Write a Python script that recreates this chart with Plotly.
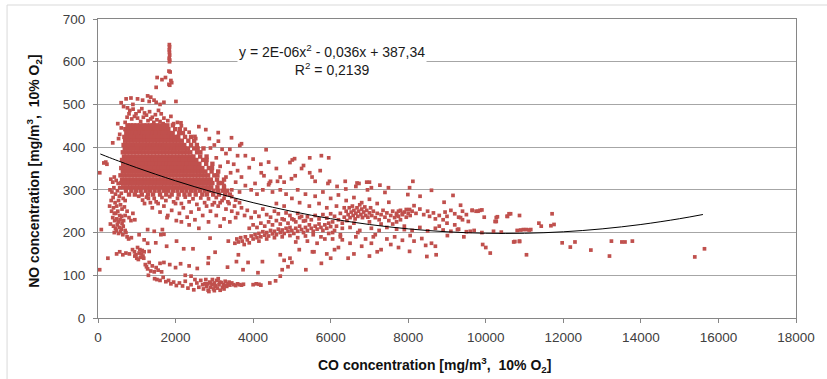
import plotly.graph_objects as go

# ---------------- data ----------------
# dense core of the main cloud: y level -> x values
core_rows = {
    451: [760, 840, 915, 1000, 1090, 1175, 1260, 1350, 1430, 1520, 1600, 1700, 1790, 1930],
    442: [705, 790, 870, 955, 1040, 1130, 1210, 1300, 1385, 1470, 1555, 1645, 1730, 1815, 1990, 2110],
    433: [730, 810, 895, 980, 1065, 1150, 1235, 1320, 1410, 1495, 1580, 1665, 1750, 1840, 1925, 2095, 2190],
    424: [680, 765, 850, 940, 1025, 1115, 1200, 1285, 1375, 1460, 1550, 1635, 1720, 1810, 1895, 1985, 2070, 2245, 2400],
    415: [700, 780, 865, 950, 1035, 1120, 1205, 1290, 1380, 1465, 1550, 1640, 1725, 1810, 1900, 1985, 2070, 2160, 2330, 2480],
    405: [660, 745, 830, 920, 1005, 1095, 1180, 1270, 1355, 1440, 1530, 1615, 1705, 1790, 1880, 1965, 2050, 2140, 2225, 2400, 2550],
    397: [690, 770, 855, 945, 1030, 1115, 1200, 1290, 1375, 1460, 1545, 1635, 1720, 1805, 1895, 1980, 2065, 2150, 2240, 2320, 2480, 2570, 2720],
    388: [640, 725, 815, 900, 990, 1075, 1160, 1250, 1335, 1425, 1510, 1600, 1685, 1770, 1860, 1945, 2035, 2120, 2210, 2295, 2380, 2555, 2640],
    378: [670, 750, 835, 920, 1005, 1095, 1180, 1265, 1350, 1440, 1525, 1610, 1700, 1785, 1870, 1960, 2045, 2130, 2215, 2300, 2390, 2460, 2635, 2800],
    370: [620, 705, 795, 880, 970, 1055, 1140, 1230, 1315, 1405, 1490, 1580, 1665, 1750, 1840, 1925, 2015, 2100, 2190, 2275, 2360, 2450, 2535, 2710, 2800],
    361: [650, 735, 820, 905, 995, 1080, 1165, 1255, 1340, 1425, 1515, 1600, 1685, 1775, 1860, 1945, 2035, 2120, 2205, 2295, 2380, 2440, 2525, 2615, 2790, 2950],
    351: [600, 685, 775, 860, 950, 1035, 1120, 1210, 1295, 1385, 1470, 1560, 1645, 1730, 1820, 1905, 1995, 2080, 2170, 2255, 2340, 2430, 2515, 2605, 2690, 2860, 2940],
    343: [640, 720, 805, 890, 975, 1060, 1150, 1235, 1320, 1405, 1495, 1580, 1665, 1750, 1840, 1925, 2010, 2095, 2185, 2270, 2355, 2440, 2530, 2595, 2680, 2770, 2930, 3100],
    334: [580, 665, 755, 840, 930, 1015, 1100, 1190, 1275, 1365, 1450, 1540, 1625, 1710, 1800, 1885, 1975, 2060, 2150, 2235, 2320, 2410, 2495, 2585, 2670, 2760, 2840, 3000, 3080],
    324: [620, 700, 785, 870, 955, 1040, 1130, 1215, 1300, 1385, 1475, 1560, 1645, 1730, 1820, 1905, 1990, 2075, 2165, 2250, 2335, 2420, 2510, 2575, 2660, 2750, 2830, 2910, 3070, 3250],
    316: [600, 690, 780, 870, 960, 1045, 1130, 1220, 1305, 1395, 1480, 1570, 1655, 1740, 1830, 1915, 2005, 2090, 2180, 2265, 2350, 2440, 2525, 2615, 2700, 2790, 2870, 2950, 3110, 3200],
    306: [650, 740, 830, 920, 1010, 1095, 1180, 1270, 1355, 1445, 1530, 1620, 1705, 1790, 1880, 1965, 2055, 2140, 2230, 2315, 2400, 2490, 2575, 2665, 2750, 2840, 2920, 3080, 3250],
    298: [720, 860, 980, 1100, 1230, 1340, 1460, 1580, 1700, 1810, 1930, 2050, 2170, 2280, 2400, 2510, 2630, 2750, 2860, 2980, 3100, 3220, 3330],
    289: [800, 950, 1130, 1290, 1420, 1600, 1760, 1900, 2080, 2230, 2360, 2520, 2690, 2810, 2970, 3120, 3280, 3400],
}

cloud_edge = [
    (1840, 640), (1845, 635), (1838, 628), (1842, 622), (1848, 615), (1835, 608), (1850, 604), (1843, 600),
    (1830, 578), (1860, 576), (1900, 551), (1830, 547), (1740, 563), (1650, 558), (1525, 563), (1500, 540),
    (2010, 507), (1850, 545), (1880, 556),
    (597, 504), (725, 513), (850, 515), (1020, 513), (1150, 510), (1280, 520), (1360, 517), (1445, 510),
    (1320, 507), (1500, 505), (1600, 500), (1700, 505), (900, 500), (660, 495),
    (760, 492), (820, 486), (905, 489), (980, 478), (1060, 484), (1130, 490), (1200, 480), (1250, 475),
    (1330, 483), (1400, 470), (1480, 476), (1560, 486), (1630, 478), (1700, 468), (1800, 462), (1880, 472),
    (2050, 458), (2150, 450), (750, 470), (800, 478), (870, 466), (940, 472), (1020, 468), (1100, 460),
    (1170, 470), (1290, 462), (1360, 466), (1440, 458), (1520, 464), (1600, 460), (1680, 455), (1950, 455),
    (700, 458), (2250, 442), (2350, 435), (2500, 425), (2600, 448), (2780, 441), (3100, 434), (2140, 457),
    (2870, 420), (2520, 420), (2900, 398),
    (3104, 414), (3443, 422), (3700, 408), (3657, 404), (3000, 405), (3200, 395), (3300, 385), (3050, 375),
    (3350, 365), (3500, 360), (3150, 355), (3600, 345), (3420, 340), (3700, 330), (3300, 330), (3550, 318),
    (3800, 310), (3250, 310), (3450, 300), (3650, 295), (3900, 352), (4210, 340), (4280, 333), (4400, 312),
    (4450, 320), (4420, 316), (4630, 320), (4800, 318), (4990, 326), (5085, 333), (4335, 394), (3950, 300),
    (4100, 290), (4250, 300), (4050, 315), (4500, 295), (4700, 300), (4850, 290),
    (1050, 285), (1150, 276), (1250, 283), (1350, 270), (1450, 280), (1550, 268), (1650, 282), (1750, 275),
    (1850, 284), (1950, 272), (2050, 280), (2150, 268), (2250, 283), (2350, 272), (2450, 279), (2550, 266),
    (2650, 281), (2750, 270), (2850, 279), (2950, 265), (3050, 282), (3150, 270), (3250, 280), (3350, 272),
    (3450, 284), (3550, 276), (3650, 270),
    (3000, 270), (3100, 262), (3200, 275), (3300, 255), (3380, 268), (3450, 250), (3520, 262), (3600, 245),
    (3700, 258), (3780, 240), (3850, 252), (3950, 235), (4050, 248), (4150, 238), (4250, 255), (4350, 242),
    (4450, 236), (4550, 250), (4650, 244), (4750, 232), (4850, 246), (4950, 240), (5050, 230), (5150, 245),
    (5250, 238), (5350, 228), (3050, 240), (3250, 232), (3400, 225), (3550, 235), (2900, 250), (2800, 262),
    (2700, 240), (2600, 255), (2500, 230), (2400, 248), (2300, 236), (2200, 258), (2100, 245), (2000, 268),
    (1900, 252), (1800, 240), (1700, 262), (1600, 248), (1500, 272), (1400, 258), (1300, 280), (1200, 268),
    (2150, 225), (2350, 218), (2600, 210), (2850, 225), (3150, 215), (1780, 235), (2020, 228),
]

left_strip = [
    (45, 340), (43, 113), (85, 207), (150, 363), (200, 365), (230, 360), (255, 140),
    (380, 410), (510, 455), (560, 430), (600, 445), (530, 420),
    (330, 325), (380, 318), (420, 330), (470, 322), (520, 315), (560, 305), (310, 300), (360, 295),
    (410, 305), (450, 290), (500, 298), (550, 285), (600, 292), (650, 280), (700, 275), (340, 275),
    (390, 282), (440, 270), (480, 262), (530, 275), (580, 265), (620, 255), (680, 260), (350, 250),
    (400, 258), (460, 245), (510, 250), (560, 240), (610, 238), (380, 235), (430, 228), (480, 232),
    (520, 225), (570, 230), (620, 222), (660, 228), (400, 215), (450, 210), (500, 218), (550, 212),
    (600, 208), (650, 215), (700, 205), (420, 200), (470, 205), (530, 198), (580, 202), (640, 195),
    (720, 200), (750, 190), (790, 185), (860, 188), (320, 220), (300, 262), (420, 245), (700, 240),
    (750, 250), (800, 235), (850, 228), (900, 245), (950, 230),
]

lower_arc = [
    (480, 150), (560, 155), (640, 148), (720, 152), (810, 150), (890, 160), (940, 155), (980, 148),
    (1020, 165), (1060, 152), (1100, 142), (1140, 158), (1180, 140), (1000, 140), (1080, 160), (1120, 150),
    (1160, 145), (950, 145), (1040, 137), (1190, 155), (1220, 125), (1280, 115), (1320, 130), (1360, 110),
    (1400, 122), (1450, 108), (1500, 118), (1550, 112), (1600, 128), (1640, 108), (1300, 100), (1250, 120),
    (1460, 92), (1520, 90), (1600, 88), (1680, 95), (1750, 85), (1820, 88), (1880, 80), (1950, 84),
    (2020, 76), (2100, 82), (2180, 75), (2250, 86), (2320, 70), (2400, 78), (2470, 66), (2550, 82),
    (2600, 72), (2650, 88), (2720, 68), (2760, 80), (2800, 74), (2840, 65), (2880, 84), (2900, 72),
    (2940, 78), (2980, 68), (3000, 82), (3030, 74), (3060, 88), (3080, 70), (3120, 78), (3150, 65),
    (3180, 83), (3210, 72), (3240, 78), (3280, 86), (3320, 74), (3350, 80), (3400, 77), (3450, 82),
    (3500, 78), (3550, 76), (3600, 80), (3650, 78), (3700, 77), (3750, 79), (2780, 90), (2950, 90),
    (3100, 92), (2860, 62), (3000, 64), (3250, 68), (2700, 78), (2820, 80), (2900, 82), (3020, 76),
    (3140, 84), (3280, 76), (3380, 84), (4000, 78), (4080, 80), (4150, 79), (4200, 77), (4430, 82),
    (4580, 87), (4700, 98), (1700, 130), (1850, 125), (2000, 118), (2130, 127), (2350, 122), (2560, 116),
    (2840, 128), (2400, 98), (2500, 90), (2250, 100),
    (1060, 195), (1190, 183), (1280, 207), (1450, 203), (1620, 195), (1660, 207), (1700, 196), (1490, 176),
    (1770, 168), (2025, 180), (2210, 162), (2450, 162), (2850, 141), (2890, 187), (1320, 156), (1280, 175),
    (3020, 154), (3340, 119), (3360, 180), (3570, 132), (3620, 148), (3870, 130), (4240, 132), (4125, 106),
    (3740, 113),
]

middle_band = [
    (3530, 175), (3580, 185), (3620, 178), (3680, 188), (3720, 180), (3770, 172), (3800, 190), (3850, 183),
    (3900, 176), (3950, 192), (4000, 185), (4050, 195), (4100, 188), (4150, 198), (4200, 190), (4250, 202),
    (4300, 194), (4350, 200), (4400, 192), (4450, 205), (4500, 197), (4550, 203), (4600, 195), (4650, 208),
    (4700, 200), (4750, 206), (4800, 198), (4850, 210), (4900, 203), (4950, 212), (5000, 205), (5050, 198),
    (5100, 210), (5150, 203), (5200, 215), (5250, 207), (5300, 200), (5350, 212), (5400, 205), (5450, 218),
    (5500, 210), (5550, 203), (5600, 215), (5650, 208), (5700, 220), (5750, 212), (5800, 205), (5850, 218),
    (5900, 210), (5950, 222), (6000, 214), (3900, 210), (4000, 218), (4100, 212), (4200, 222), (4300, 215),
    (4400, 225), (4500, 218), (4600, 228), (4700, 220), (4800, 230), (4900, 222), (5000, 232), (5100, 225),
    (5200, 235), (5300, 227), (5400, 237), (5500, 230), (5600, 240), (5700, 232), (5800, 242), (5900, 234),
    (6000, 244), (4150, 180), (4350, 185), (4550, 188), (4750, 190), (4950, 193), (5150, 188), (5350, 192),
    (5550, 195), (5750, 190), (5950, 198),
    (6050, 225), (6100, 238), (6150, 215), (6200, 230), (6250, 245), (6300, 222), (6350, 236), (6400, 250),
    (6420, 228), (6450, 242), (6480, 258), (6500, 235), (6530, 248), (6560, 262), (6580, 240), (6600, 252),
    (6630, 232), (6650, 245), (6680, 258), (6700, 238), (6720, 250), (6750, 265), (6780, 242), (6800, 255),
    (6820, 235), (6850, 248), (6880, 260), (6900, 240), (6930, 252), (6960, 236), (7000, 246), (7030, 258),
    (7060, 240), (7100, 250), (7150, 235), (7200, 245), (7250, 230), (7300, 242), (7350, 252), (7400, 236),
    (7450, 246), (7500, 228), (7550, 240), (7600, 250), (7650, 235), (7700, 245), (7750, 238), (7800, 252),
    (7850, 242), (7900, 248), (7950, 236), (8000, 245), (8035, 254), (7700, 225), (7300, 220), (7000, 225),
    (6600, 222), (6300, 210), (6100, 205), (7800, 230), (7600, 220),
    (6050, 200), (6250, 195), (6500, 212), (6750, 205), (7050, 210), (7250, 205), (7450, 212), (7700, 208),
    (7900, 215), (8100, 205), (8300, 212), (8500, 204), (8700, 210), (8900, 206), (9100, 203), (9300, 208),
    (9500, 202), (9700, 205), (9900, 200), (10200, 203),
    (7700, 240), (7750, 250), (7850, 245), (7950, 254), (8050, 240), (8100, 250), (8200, 245), (8300, 255),
    (8400, 242), (8500, 250), (8550, 238), (8650, 246), (8700, 232), (8800, 240), (8900, 230), (8950, 248),
    (9000, 238), (9100, 252), (9200, 244), (9300, 236), (9400, 250), (9500, 242), (9650, 252), (9750, 250),
    (9850, 252), (9960, 236), (10270, 226), (10270, 235),
]

upper_scatter = [
    (4950, 364), (5010, 370), (5070, 373), (5460, 375), (5760, 380), (5950, 375), (5250, 350), (5300, 357),
    (5460, 340), (5520, 330), (5600, 320), (5730, 345), (5930, 315), (5970, 320), (6165, 308), (6375, 320),
    (6390, 302), (6650, 308), (6730, 315), (6680, 316), (6930, 318), (7000, 318), (6950, 300), (7050, 305),
    (7270, 311), (7400, 294), (7490, 305), (8120, 320), (8035, 305), (8600, 299), (8305, 285), (7990, 289),
    (9155, 287), (8925, 271), (7500, 271), (8150, 263), (9350, 264), (4400, 365), (4600, 350), (4700, 330),
    (5150, 300), (5350, 290), (5600, 285), (5800, 295), (6000, 280), (6200, 288), (6400, 275), (6600, 282),
    (6800, 270), (7000, 278), (7200, 268), (5000, 280), (5200, 270), (5450, 262), (5700, 268), (5900, 258),
    (6150, 262), (6350, 258), (4600, 268), (4800, 262), (3800, 380), (4000, 372), (3400, 395), (3600, 380),
    (4200, 360),
]

lower_scatter = [
    (5190, 160), (5360, 113), (5530, 155), (5570, 155), (5760, 128), (5900, 150), (6100, 160), (6000, 140),
    (6200, 165), (6450, 140), (6300, 183), (6500, 175), (6650, 190), (6800, 168), (6900, 185), (7050, 175),
    (7150, 195), (7300, 160), (7450, 185), (7550, 172), (7650, 190), (7750, 165), (7850, 182), (6600, 150),
    (7000, 145), (7200, 155), (4700, 148), (4800, 135), (4900, 120), (5000, 130), (4750, 113), (4950, 140),
    (6050, 185), (6250, 190), (5650, 175), (5850, 185), (5400, 180), (5100, 178), (6700, 200), (7100, 190),
    (7900, 207), (8050, 193), (8150, 180), (8350, 186), (8450, 170), (8600, 175), (8480, 144), (8720, 148),
    (8700, 168), (8035, 156), (9010, 193), (9270, 207), (9435, 190), (9600, 203), (9920, 172), (10000, 165),
    (10115, 152), (10720, 178), (10870, 180), (11050, 148),
]

right_sparse = [
    (10240, 226), (10300, 237), (10400, 201), (10550, 238), (10600, 244), (10870, 240), (10810, 205),
    (10900, 206), (10970, 207), (11050, 207), (11120, 206), (11160, 207), (10750, 179), (10870, 179),
    (11370, 222), (11430, 215), (11680, 216), (11760, 219), (11710, 244), (11970, 176), (12180, 166),
    (12300, 178), (12710, 159), (13190, 145), (13240, 180), (13510, 178), (13590, 178), (13780, 180),
    (15390, 143), (15640, 162), (9650, 252), (9800, 250), (9900, 253), (10560, 238), (10640, 244),
    (9000, 222), (9200, 218), (9400, 230), (8800, 215), (9350, 235), (9550, 226),
]

# polynomial trendline as drawn in the chart
trend_x = [60, 300, 1000, 2000, 3000, 4000, 5000, 6000, 7000, 8000, 9000, 10000, 11000, 12000, 13000, 14000, 15000, 15600]
trend_y = [384.0, 375.4, 351.9, 321.2, 293.9, 270.0, 249.6, 232.5, 218.9, 208.7, 201.8, 198.4, 198.4, 201.8, 208.7, 218.9, 232.5, 242.3]

x_ticks = [0, 2000, 4000, 6000, 8000, 10000, 12000, 14000, 16000, 18000]
y_ticks = [0, 100, 200, 300, 400, 500, 600, 700]

# ---------------- assemble ----------------
core_x, core_y = [], []
for yv, xs in core_rows.items():
    for xv in xs:
        core_x.append(xv)
        core_y.append(yv)
pts_x, pts_y = [], []
for group in (cloud_edge, left_strip, lower_arc, middle_band, upper_scatter, lower_scatter, right_sparse):
    for xv, yv in group:
        pts_x.append(xv)
        pts_y.append(yv)

FONT = "Liberation Sans, Arial, sans-serif"
RED = "#C0504D"

fig = go.Figure()
fig.add_trace(go.Scatter(
    x=core_x, y=core_y, mode="markers",
    marker=dict(symbol="square", size=4.4, color=RED, line=dict(width=0)),
    showlegend=False, hoverinfo="skip",
))
fig.add_trace(go.Scatter(
    x=pts_x, y=pts_y, mode="markers",
    marker=dict(symbol="square", size=3.7, color=RED, line=dict(width=0)),
    showlegend=False, hoverinfo="skip",
))
fig.add_trace(go.Scatter(
    x=trend_x, y=trend_y, mode="lines", line=dict(color="black", width=1, shape="spline"),
    showlegend=False, hoverinfo="skip",
))

fig.update_layout(
    width=827, height=379,
    margin=dict(l=98, r=23, t=19, b=61),
    paper_bgcolor="white", plot_bgcolor="white",
    font=dict(family=FONT, size=13, color="#404040"),
    xaxis=dict(range=[0, 18000], tickvals=x_ticks, ticktext=[str(v) for v in x_ticks],
               showgrid=False, zeroline=False, ticks="outside", ticklen=4, tickcolor="#868686",
               showline=True, linecolor="#868686", linewidth=1, mirror=True,
               ticklabelstandoff=3,
               tickfont=dict(family=FONT, size=13.5, color="#404040")),
    yaxis=dict(range=[0, 700], tickvals=y_ticks, ticktext=[str(v) for v in y_ticks],
               showgrid=True, gridcolor="#a6a6a6", gridwidth=1, zeroline=False,
               ticks="outside", ticklen=4, tickcolor="#868686",
               showline=True, linecolor="#868686", linewidth=1, mirror=True,
               ticklabelstandoff=5,
               tickfont=dict(family=FONT, size=13.5, color="#404040")),
    shapes=[dict(type="rect", xref="paper", yref="paper", x0=-0.1303, x1=1.2, y0=-0.4, y1=1.0468,
                 line=dict(color="#d9d9d9", width=1), fillcolor="rgba(0,0,0,0)", layer="below")],
    annotations=[
        dict(text="y = 2E-06x<sup>2</sup> - 0,036x + 387,34<br>R<sup>2</sup> = 0,2139",
             xref="paper", yref="paper", x=0.335, y=0.863, xanchor="center", yanchor="middle",
             showarrow=False, bgcolor="white", font=dict(family=FONT, size=14, color="#1a1a1a")),
        dict(text="<b>CO concentration [mg/m<sup>3</sup>,  10% O<sub>2</sub>]</b>",
             xref="paper", yref="paper", x=0.4823, y=-0.157, xanchor="center", yanchor="middle",
             showarrow=False, font=dict(family=FONT, size=14, color="#111111")),
        dict(text="<b>NO concentration [mg/m<sup>3</sup>,  10% O<sub>2</sub>]</b>",
             xref="paper", yref="paper", x=-0.092, y=0.4916, xanchor="center", yanchor="middle",
             textangle=-90, showarrow=False, font=dict(family=FONT, size=14, color="#111111")),
    ],
)

fig.write_html("out.html")
